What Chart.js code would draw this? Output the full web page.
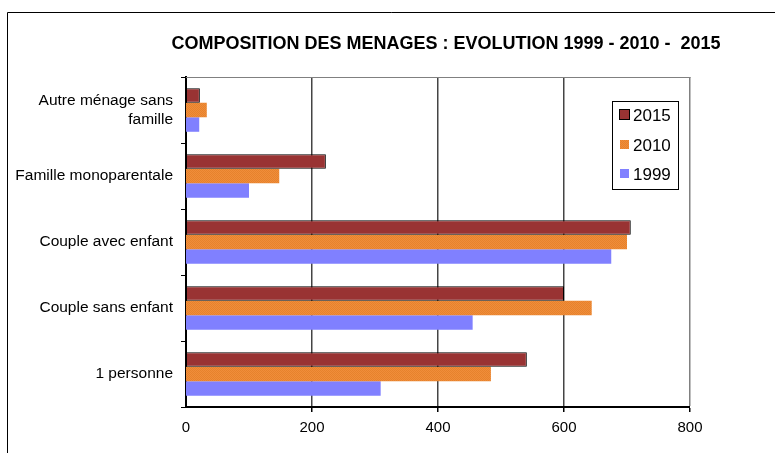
<!DOCTYPE html>
<html>
<head>
<meta charset="utf-8">
<script src="https://cdn.jsdelivr.net/npm/chart.js@4"></script>
<style>
  html, body { margin: 0; padding: 0; background: #fff; }
  #wrap { width: 775px; height: 453px; position: relative; }
</style>
</head>
<body>
<div id="wrap"><canvas id="chart" width="775" height="453"></canvas></div>
<script>
// Household composition
const categories = [
  ['Autre ménage sans', 'famille'],
  'Famille monoparentale',
  'Couple avec enfant',
  'Couple sans enfant',
  '1 personne',
];
const seriesLabels = ['2015', '2010', '1999'];
const values2015 = [22, 222, 706, 600, 541];
const values2010 = [33, 148, 700, 644, 484];
const values1999 = [21, 100, 675, 455, 309];
const xTicks = [0, 200, 400, 600, 800];

const TITLE = 'COMPOSITION DES MENAGES : EVOLUTION 1999 - 2010 -  2015';
const FONT = "'Liberation Sans', Arial, sans-serif";

const COLORS = {
  red: '#993333',
  orange: '#EE8A34',
  blue: '#8080FF',
};

// small dotted texture for the 2010 bars
function makeOrangePattern() {
  const c = document.createElement('canvas');
  c.width = 2; c.height = 2;
  const g = c.getContext('2d');
  g.fillStyle = '#F08D3A'; g.fillRect(0, 0, 2, 2);
  g.fillStyle = '#E6822C'; g.fillRect(0, 0, 1, 1); g.fillRect(1, 1, 1, 1);
  return g.createPattern(c, 'repeat');
}
const orangeFill = makeOrangePattern();

// frame, title, plot border and legend box
const decorations = {
  id: 'decorations',
  beforeDraw(chart) {
    const { ctx } = chart;
    ctx.save();
    ctx.fillStyle = '#fff';
    ctx.fillRect(0, 0, chart.width, chart.height);
    ctx.strokeStyle = '#000';
    ctx.lineWidth = 1;
    ctx.beginPath();
    ctx.moveTo(7.5, chart.height);
    ctx.lineTo(7.5, 12.5);
    ctx.lineTo(chart.width, 12.5);
    ctx.stroke();
    ctx.restore();
  },
  afterDraw(chart) {
    const { ctx, chartArea: a } = chart;
    ctx.save();
    // plot area top border
    ctx.strokeStyle = '#808080';
    ctx.lineWidth = 1;
    ctx.beginPath();
    ctx.moveTo(a.left, a.top + 0.5);
    ctx.lineTo(a.right + 0.5, a.top + 0.5);
    ctx.stroke();

    // title
    ctx.fillStyle = '#000';
    ctx.font = 'bold 18px ' + FONT;
    ctx.textAlign = 'center';
    ctx.textBaseline = 'alphabetic';
    ctx.fillText(TITLE, 446, 49);

    // legend
    const lx = 612, ly = 101, lw = 66, lh = 88;
    ctx.fillStyle = '#fff';
    ctx.fillRect(lx, ly, lw, lh);
    ctx.strokeStyle = '#000';
    ctx.strokeRect(lx + 0.5, ly + 0.5, lw, lh);
    const fills = [COLORS.red, orangeFill, COLORS.blue];
    const rows = [115, 145, 174];
    ctx.font = '17px ' + FONT;
    ctx.textAlign = 'left';
    ctx.textBaseline = 'middle';
    seriesLabels.forEach((lab, i) => {
      const y = rows[i];
      ctx.fillStyle = fills[i];
      ctx.fillRect(620, y - 5, 9, 9);
      if (i === 0) {
        ctx.strokeStyle = '#000';
        ctx.strokeRect(619.5, y - 5.5, 10, 10);
      }
      ctx.fillStyle = '#000';
      ctx.fillText(lab, 633, y + 1);
    });
    ctx.restore();
  },
};

new Chart(document.getElementById('chart'), {
  type: 'bar',
  data: {
    labels: categories,
    datasets: [
      { label: seriesLabels[0], data: values2015, backgroundColor: COLORS.red,
        borderColor: '#000', borderWidth: 1, borderSkipped: false },
      { label: seriesLabels[1], data: values2010, backgroundColor: orangeFill, borderWidth: 0 },
      { label: seriesLabels[2], data: values1999, backgroundColor: COLORS.blue, borderWidth: 0 },
    ],
  },
  options: {
    indexAxis: 'y',
    responsive: false,
    animation: false,
    events: [],
    categoryPercentage: 0.66,
    barPercentage: 1.0,
    layout: { padding: { left: 0, top: 77, right: 85, bottom: 0 } },
    plugins: { legend: { display: false }, title: { display: false }, tooltip: { enabled: false } },
    scales: {
      x: {
        min: 0, max: 800,
        afterBuildTicks: (scale) => { scale.ticks = xTicks.map(v => ({ value: v })); },
        afterFit: (scale) => { scale.height = 46; },
        grid: {
          color: (c) => (c.tick && c.tick.value === 800 ? '#808080' : '#444'),
          lineWidth: (c) => (c.tick && c.tick.value === 0 ? 0 : 1.5),
          drawTicks: true, tickLength: 5, tickColor: '#000',
        },
        border: { color: '#000', width: 2 },
        ticks: { color: '#000', font: { family: FONT, size: 15 }, padding: 7 },
      },
      y: {
        z: 1,
        afterFit: (scale) => { scale.width = 186; },
        grid: { drawOnChartArea: false, drawTicks: true, tickLength: 5, color: '#000', offset: true },
        border: { color: '#000', width: 2 },
        ticks: { color: '#000', font: { family: FONT, size: 15.5, lineHeight: 1.2 }, padding: 8 },
      },
    },
  },
  plugins: [decorations],
});
</script>
</body>
</html>
